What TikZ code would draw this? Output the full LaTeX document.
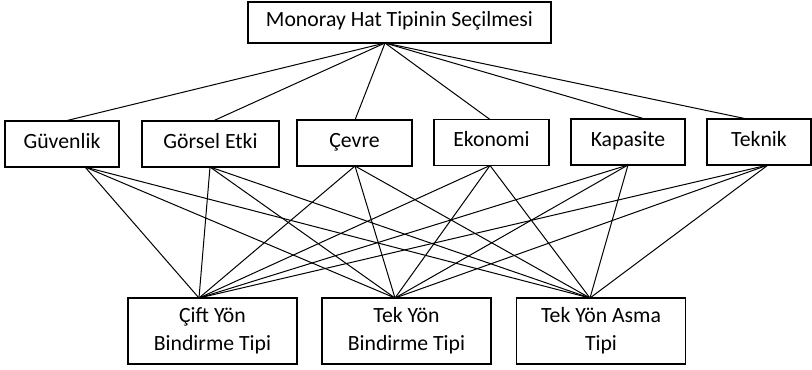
\documentclass[tikz,border=0pt]{standalone}
\usepackage{fontspec}
\setmainfont{Carlito}
\begin{document}
\begin{tikzpicture}[x=0.75pt,y=-0.75pt,
  box/.style={draw=black, line width=1pt, inner sep=0pt,
    font=\fontsize{16.3pt}{21pt}\selectfont},
  onebox/.style={box, text height=9pt, text depth=3pt},
  midbox/.style={onebox, minimum height=34.5pt},
  twobox/.style={box, align=center, minimum width=126.75pt, minimum height=49.5pt},
  conn/.style={draw=black, line width=0.75pt}]
\useasboundingbox (0,0) rectangle (812,369);
% top
\node[onebox, minimum width=227.25pt, minimum height=30.75pt] (top) at (399.5,22.5) {Monoray Hat Tipinin Seçilmesi};
% middle row
\node[midbox, minimum width=85.5pt] (guv) at (62,144) {Güvenlik};
\node[midbox, minimum width=102.75pt] (gor) at (210.5,144) {Görsel Etki};
\node[midbox, minimum width=86.25pt] (cev) at (354.5,143) {Çevre};
\node[midbox, minimum width=86.25pt] (eko) at (491.5,142.5) {Ekonomi};
\node[midbox, minimum width=85.5pt] (kap) at (628,142) {Kapasite};
\node[midbox, minimum width=78pt] (tek) at (759,142) {Teknik};
% bottom row
\node[twobox] (cift) at (212.5,331) {Çift Yön\\Bindirme Tipi};
\node[twobox] (tekyon) at (406.5,331) {Tek Yön\\Bindirme Tipi};
\node[twobox] (asma) at (601,331) {Tek Yön Asma\\Tipi};
% connection points
\coordinate (topB) at (385,43);
\coordinate (guvT) at (65,121);   \coordinate (guvB) at (85,167);
\coordinate (gorT) at (213,121);  \coordinate (gorB) at (210,167);
\coordinate (cevT) at (355,120);  \coordinate (cevB) at (355,166);
\coordinate (ekoT) at (490,119.5);  \coordinate (ekoB) at (490,165.5);
\coordinate (kapT) at (645,119);  \coordinate (kapB) at (628,165);
\coordinate (tekT) at (747,119);  \coordinate (tekB) at (768,165);
\coordinate (ciftT) at (199,298);
\coordinate (tekyonT) at (395,298);
\coordinate (asmaT) at (590,298);
% top to middle
\foreach \m in {guvT,gorT,cevT,ekoT,kapT,tekT}
  \draw[conn] (topB) -- (\m);
% middle to bottom
\foreach \m in {guvB,gorB,cevB,ekoB,kapB,tekB}
  \foreach \b in {ciftT,tekyonT,asmaT}
    \draw[conn] (\m) -- (\b);
\end{tikzpicture}
\end{document}
